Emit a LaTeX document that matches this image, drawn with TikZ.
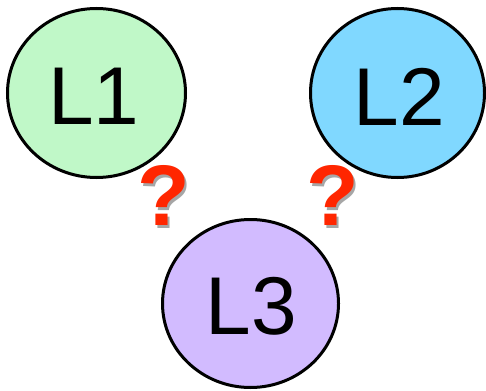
\documentclass[tikz,border=0pt]{standalone}
\usepackage{fontspec}
\setmainfont{Liberation Sans}
\usetikzlibrary{shapes.geometric}
\definecolor{cgreen}{HTML}{C0F8C8}
\definecolor{cblue}{HTML}{80D8FF}
\definecolor{cpurple}{HTML}{D2BBFF}
\definecolor{qred}{HTML}{FF2600}
\newcommand{\shadowq}{\rlap{\kern2.5pt\raisebox{-2.5pt}{\textcolor{black!35}{?}}}\textcolor{qred}{?}}
\tikzset{
  setbox/.style={ellipse, draw=black, line width=3pt, inner sep=0pt},
  setlabel/.style={font=\fontsize{82}{82}\selectfont, text=black, inner sep=0pt},
  qmark/.style={font=\fontsize{86}{86}\selectfont\bfseries, inner sep=0pt}
}
\begin{document}
\begin{tikzpicture}[x=1pt,y=-1pt]
\useasboundingbox (0,0) rectangle (486,390);
\node[setbox, fill=cgreen, minimum width=178pt, minimum height=169pt] (e1) at (96.5,93) {};
\node[setbox, fill=cblue, minimum width=174pt, minimum height=169pt] (e2) at (397.5,93) {};
\node[setbox, fill=cpurple, minimum width=176pt, minimum height=168pt] (e3) at (250.5,303.5) {};
\node[setlabel] (t1) at (94,96.5) {L1};
\node[setlabel] (t2) at (399.5,96.5) {L2};
\node[setlabel] (t3) at (251.5,306) {L3};
\node[qmark] (q1) at (163.5,197) {\shadowq};
\node[qmark] (q2) at (332.5,197) {\shadowq};
\end{tikzpicture}
\end{document}
